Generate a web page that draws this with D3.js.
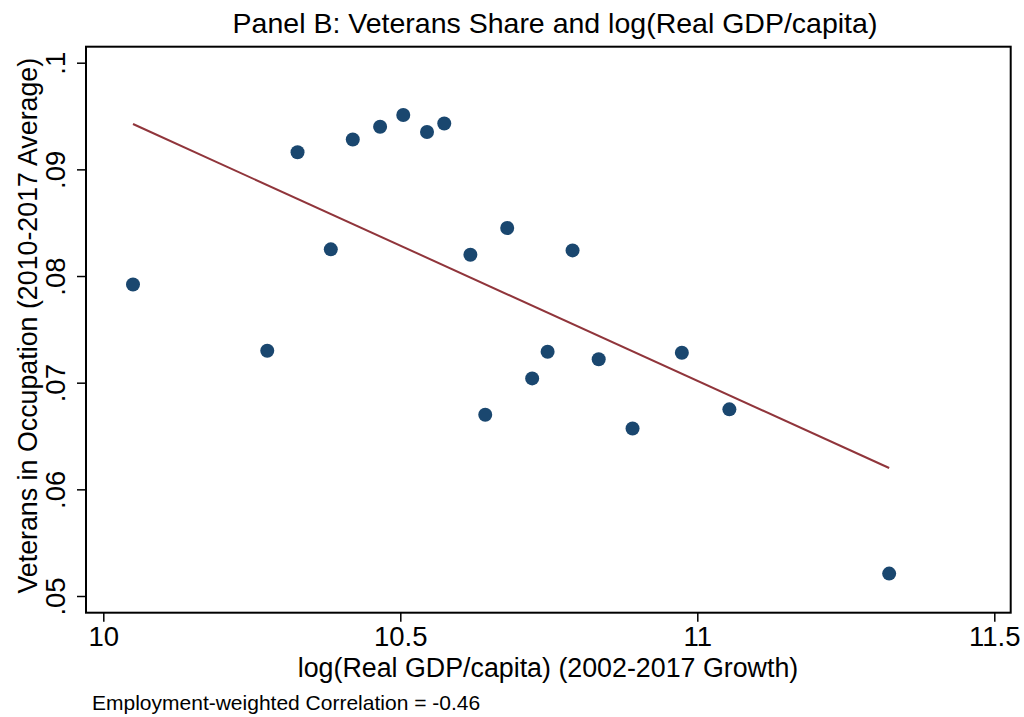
<!DOCTYPE html>
<html>
<head>
<meta charset="utf-8">
<script src="https://cdn.jsdelivr.net/npm/d3@7"></script>
<style>
  body { margin: 0; background: #fff; }
  text { font-family: "Liberation Sans", Arial, sans-serif; fill: #000; }
</style>
</head>
<body>
<div id="chart"></div>
<script>
const width = 1024;
const height = 717;

// data
var gdp = [10.050, 10.276, 10.327, 10.383, 10.420, 10.466, 10.505, 10.545, 10.574, 10.618,
           10.643, 10.680, 10.722, 10.748, 10.790, 10.834, 10.891, 10.974, 11.054, 11.323];
var vetShare = [0.0792, 0.0730, 0.0916, 0.0825, 0.0928, 0.0940, 0.0951, 0.0935, 0.0943, 0.0820,
                0.0670, 0.0845, 0.0704, 0.0729, 0.0824, 0.0722, 0.0657, 0.0728, 0.0675, 0.0521];
var fitX = [10.050, 11.323];
var fitY = [0.09425, 0.0620];
var xTicks = [10, 10.5, 11, 11.5];
var yTicks = [0.05, 0.06, 0.07, 0.08, 0.09, 0.1];
var yTickLabels = [".05", ".06", ".07", ".08", ".09", ".1"];

var points = gdp.map((d, i) => ({x: d, y: vetShare[i]}));
var fit = fitX.map((d, i) => ({x: d, y: fitY[i]}));

// plot frame
const plotL = 86, plotR = 1010.7, plotT = 46.7, plotB = 612.7;

var x = d3.scaleLinear().domain([10, 11.5]).range([103.3, 994.3]);
var y = d3.scaleLinear().domain([0.05, 0.1]).range([596, 62.7]);

var svg = d3.select("#chart").append("svg")
  .attr("width", width).attr("height", height);

svg.append("rect")
  .attr("width", width).attr("height", height).attr("fill", "#fff");

// title
svg.append("text")
  .attr("x", 555).attr("y", 33)
  .attr("text-anchor", "middle")
  .style("font-size", "28.5px")
  .text("Panel B: Veterans Share and log(Real GDP/capita)");

// frame
svg.append("rect")
  .attr("x", plotL).attr("y", plotT)
  .attr("width", plotR - plotL).attr("height", plotB - plotT)
  .attr("fill", "none").attr("stroke", "#000").attr("stroke-width", 2);

// x axis
var xAxis = svg.append("g")
  .attr("transform", `translate(0,${plotB})`)
  .call(d3.axisBottom(x).tickValues(xTicks).tickSize(9).tickPadding(5)
    .tickFormat(d3.format("")));
xAxis.select(".domain").remove();
xAxis.selectAll("line").attr("stroke", "#000").attr("stroke-width", 1.5);
xAxis.selectAll("text").style("font-size", "27.5px");

// y axis
var yAxis = svg.append("g")
  .attr("transform", `translate(${plotL},0)`)
  .call(d3.axisLeft(y).tickValues(yTicks).tickSize(9).tickPadding(0)
    .tickFormat((d, i) => yTickLabels[i]));
yAxis.select(".domain").remove();
yAxis.selectAll("line").attr("stroke", "#000").attr("stroke-width", 1.5);
yAxis.selectAll("text")
  .style("font-size", "27.5px")
  .attr("text-anchor", "middle")
  .attr("dy", null)
  .attr("x", null)
  .attr("transform", "translate(-21,0) rotate(-90)");

// axis titles
svg.append("text")
  .attr("x", 548).attr("y", 677)
  .attr("text-anchor", "middle")
  .style("font-size", "26.8px")
  .text("log(Real GDP/capita) (2002-2017 Growth)");

svg.append("text")
  .attr("transform", `translate(37,${(plotT + plotB) / 2 - 4}) rotate(-90)`)
  .attr("text-anchor", "middle")
  .style("font-size", "26.8px")
  .text("Veterans in Occupation (2010-2017 Average)");

svg.append("text")
  .attr("x", 92).attr("y", 710)
  .style("font-size", "21px")
  .text("Employment-weighted Correlation = -0.46");

// fitted line
svg.append("path")
  .datum(fit)
  .attr("fill", "none")
  .attr("stroke", "#90353b")
  .attr("stroke-width", 2)
  .attr("d", d3.line().x(d => x(d.x)).y(d => y(d.y)));

// scatter
svg.selectAll("circle.pt")
  .data(points)
  .enter()
  .append("circle")
  .attr("class", "pt")
  .attr("cx", d => x(d.x))
  .attr("cy", d => y(d.y))
  .attr("r", 7)
  .attr("fill", "#1a476f");
</script>
</body>
</html>
